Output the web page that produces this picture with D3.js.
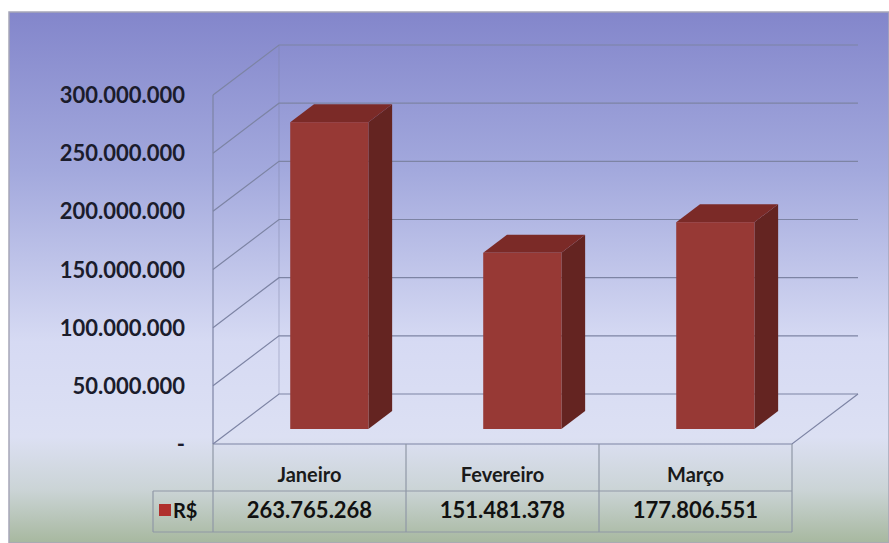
<!DOCTYPE html>
<html>
<head>
<meta charset="utf-8">
<script src="https://cdn.jsdelivr.net/npm/d3@7"></script>
<style>
  html, body { margin: 0; padding: 0; background: #fff; }
  svg { display: block; }
  text { font-family: Lato, "Open Sans", sans-serif; }
</style>
</head>
<body>
<svg id="chart" width="889" height="543"></svg>
<script>
const months = ["Janeiro", "Fevereiro", "Março"];
const values = [263765268, 151481378, 177806551];
const yTicks = [0, 50000000, 100000000, 150000000, 200000000, 250000000, 300000000];
const seriesName = "R$";

const width = 889, height = 543;
const svg = d3.select("#chart");

// pt-BR number format, zero shown as "-" like Excel accounting
const br = d3.formatLocale({ decimal: ",", thousands: ".", grouping: [3], currency: ["R$", ""] });
const fmt = v => v === 0 ? "-" : br.format(",d")(v);

// 3d projection: depth d in [0,1] shifts right and up
const depthX = 66, depthY = -50;
const proj = (x, y, d) => [x + d * depthX, y + d * depthY];

const plot = { left: 213, right: 792, bottom: 444, top: 95 };

const x = d3.scaleBand()
  .domain(months)
  .range([plot.left, plot.right])
  .padding(0);

const y = d3.scaleLinear()
  .domain([0, 300000000])
  .range([plot.bottom, plot.top]);

// background
const defs = svg.append("defs");
const bg = defs.append("linearGradient")
  .attr("id", "bg").attr("x1", 0).attr("y1", 0).attr("x2", 0).attr("y2", 1);
[
  [0, "#8386cb"],
  [0.3, "#a3a9dd"],
  [0.62, "#d6daf3"],
  [0.8, "#dce0f3"],
  [0.9, "#cbd4d6"],
  [1, "#a7b89f"]
].forEach(([o, c]) => bg.append("stop").attr("offset", o).attr("stop-color", c));

svg.append("rect")
  .attr("x", 9).attr("y", 12)
  .attr("width", width - 9).attr("height", height - 12)
  .attr("fill", "url(#bg)")
  .attr("stroke", "#a7a7b8")
  .attr("stroke-width", 1.5);

const gridColor = "#7d84a4";
const grid = svg.append("g").attr("fill", "none").attr("stroke", gridColor).attr("stroke-width", 1.2);

// gridlines: side wall diagonal + back wall horizontal
yTicks.forEach(t => {
  const f = proj(plot.left, y(t), 0);
  const b = proj(plot.left, y(t), 1);
  const r = proj(plot.right, y(t), 1);
  grid.append("path")
    .attr("d", `M${f[0]},${f[1]}L${b[0]},${b[1]}L${r[0]},${r[1]}`);
});

// back wall left edge
{
  const a = proj(plot.left, y(0), 1), b = proj(plot.left, y(300000000), 1);
  grid.append("line").attr("x1", a[0]).attr("y1", a[1]).attr("x2", b[0]).attr("y2", b[1])
    .attr("stroke-opacity", 0.4);
}

// floor outline
{
  const a = proj(plot.left, y(0), 0), b = proj(plot.right, y(0), 0), c = proj(plot.right, y(0), 1);
  grid.append("path").attr("d", `M${a[0]},${a[1]}L${b[0]},${b[1]}L${c[0]},${c[1]}`);
}

// front vertical axis
grid.append("line")
  .attr("x1", plot.left).attr("y1", y(0))
  .attr("x2", plot.left).attr("y2", y(300000000));

// y tick labels
svg.append("g").selectAll("text")
  .data(yTicks)
  .join("text")
  .attr("x", 185)
  .attr("y", d => y(d) + 8)
  .attr("text-anchor", "end")
  .attr("font-size", 22)
  .attr("font-weight", 700)
  .attr("fill", "#1b1c2c")
  .text(fmt);

// bars
const d0 = 0.3, d1 = 0.66;
const barW = x.bandwidth() * 0.405;
const bars = svg.append("g").selectAll("g")
  .data(months.map((m, i) => ({ m, v: values[i] })))
  .join("g");

bars.each(function (d) {
  const g = d3.select(this);
  const xl = x(d.m) + (x.bandwidth() - barW) / 2;
  const xr = xl + barW;
  const yt = y(d.v), yb = y(0);
  const p = (px, py, pd) => proj(px, py, pd).join(",");
  // side
  g.append("path")
    .attr("d", `M${p(xr, yb, d0)}L${p(xr, yb, d1)}L${p(xr, yt, d1)}L${p(xr, yt, d0)}Z`)
    .attr("fill", "#642421");
  // top
  g.append("path")
    .attr("d", `M${p(xl, yt, d0)}L${p(xr, yt, d0)}L${p(xr, yt, d1)}L${p(xl, yt, d1)}Z`)
    .attr("fill", "#7b2a27");
  // front
  const f = proj(xl, yt, d0);
  g.append("rect")
    .attr("x", f[0]).attr("y", f[1])
    .attr("width", barW).attr("height", yb - yt)
    .attr("fill", "#973935");
});

// data table
const rowTop = plot.bottom, rowMid = 491, rowBot = 532, legendLeft = 153;
const table = svg.append("g").attr("fill", "none").attr("stroke", "#8f98a6").attr("stroke-width", 1.2);
table.append("line").attr("x1", legendLeft).attr("x2", plot.right).attr("y1", rowMid).attr("y2", rowMid);
table.append("line").attr("x1", legendLeft).attr("x2", plot.right).attr("y1", rowBot).attr("y2", rowBot);
table.append("line").attr("x1", legendLeft).attr("x2", legendLeft).attr("y1", rowMid).attr("y2", rowBot);
months.forEach(m => {
  table.append("line").attr("x1", x(m)).attr("x2", x(m)).attr("y1", rowTop).attr("y2", rowBot);
});
table.append("line").attr("x1", plot.right).attr("x2", plot.right).attr("y1", rowTop).attr("y2", rowBot);

svg.append("g").selectAll("text")
  .data(months)
  .join("text")
  .attr("x", d => x(d) + x.bandwidth() / 2)
  .attr("y", 482)
  .attr("text-anchor", "middle")
  .attr("font-size", 20)
  .attr("font-weight", 700)
  .attr("fill", "#1a1a1a")
  .text(d => d);

svg.append("g").selectAll("text")
  .data(values)
  .join("text")
  .attr("x", (d, i) => x(months[i]) + x.bandwidth() / 2)
  .attr("y", 518)
  .attr("text-anchor", "middle")
  .attr("font-size", 22)
  .attr("font-weight", 700)
  .attr("fill", "#111")
  .text(fmt);

// legend key
svg.append("rect")
  .attr("x", 159).attr("y", 504).attr("width", 12).attr("height", 12)
  .attr("fill", "#b0302d");
svg.append("text")
  .attr("x", 173).attr("y", 518)
  .attr("font-size", 20)
  .attr("font-weight", 700)
  .attr("fill", "#111")
  .text(seriesName);
</script>
</body>
</html>
